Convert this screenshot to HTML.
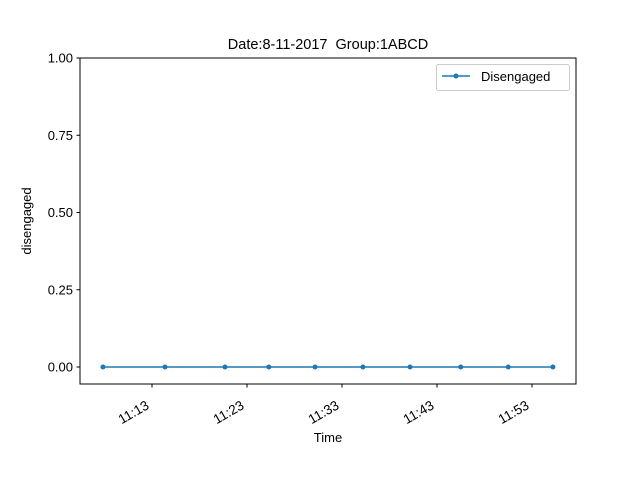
<!DOCTYPE html>
<html><head><meta charset="utf-8"><style>
body{margin:0;background:#fff;}
svg{display:block;font-family:"Liberation Sans","DejaVu Sans",sans-serif;}
</style></head><body>
<svg id="chart" width="640" height="480">
<rect width="640" height="480" fill="#fff"/>
<text x="328" y="49" text-anchor="middle" font-size="14.5" style="white-space:pre">Date:8-11-2017&#160; Group:1ABCD</text>
<g id="plot"></g>
<rect x="80" y="58" width="496" height="326" fill="none" stroke="#000" stroke-width="1"/>
<text x="328" y="442" text-anchor="middle" font-size="13">Time</text>
<text transform="translate(31,221) rotate(-90)" text-anchor="middle" font-size="13">disengaged</text>
<g>
<rect x="436.5" y="64.5" width="133" height="26" rx="2" fill="#fff" stroke="#ccc"/>
<line x1="442" y1="76" x2="470" y2="76" stroke="#1f77b4" stroke-width="1.5"/>
<circle cx="456" cy="76" r="2.5" fill="#1f77b4"/>
<text x="481" y="81" font-size="13">Disengaged</text>
</g>
</svg>
<script>
const times=[7.84,14.37,20.68,25.3,30.16,35.2,40.16,45.5,50.5,55.2];
const values=[0,0,0,0,0,0,0,0,0,0];
const xTickMinutes=[13,23,33,43,53];
const xTickLabels=["11:13","11:23","11:33","11:43","11:53"];
const yTicks=[0,0.25,0.5,0.75,1.0];
const yTickLabels=["0.00","0.25","0.50","0.75","1.00"];
const X0=80,X1=576,Y0=384,Y1=58,xmin=5.42,xmax=57.63,ymin=-0.055,ymax=1.0;
const xs=v=>X0+(v-xmin)/(xmax-xmin)*(X1-X0);
const ys=v=>Y0-(v-ymin)/(ymax-ymin)*(Y0-Y1);
const NS="http://www.w3.org/2000/svg";
const g=document.getElementById('plot');
function mk(t,a){const e=document.createElementNS(NS,t);for(const k in a)e.setAttribute(k,a[k]);g.appendChild(e);return e;}
yTicks.forEach((v,i)=>{
  const y=ys(v);
  const t=mk('line',{x1:X0-3.5,x2:X0,y1:y,y2:y,stroke:'#000'});
  
  
  const l=mk('text',{x:X0-7,y:y+4.5,'text-anchor':'end','font-size':13});
  l.textContent=yTickLabels[i];
  
  
});
xTickMinutes.forEach((v,i)=>{
  const x=xs(v);
  const t=mk('line',{x1:x,x2:x,y1:Y0,y2:Y0+3.5,stroke:'#000'});
  
  
  const l=mk('text',{transform:`translate(${x-2},${Y0+24}) rotate(-30)`,'text-anchor':'end','font-size':13.5,y:0});
  l.textContent=xTickLabels[i];
  
  
});
const pts=times.map((t,i)=>xs(t)+','+ys(values[i])).join(' ');
const line=mk('polyline',{points:pts,fill:'none',stroke:'#1f77b4','stroke-width':1.5});


times.forEach((t,i)=>{
  const c=mk('circle',{cx:xs(t),cy:ys(values[i]),r:2.5,fill:'#1f77b4'});
  
  
});
</script>
</body></html>
